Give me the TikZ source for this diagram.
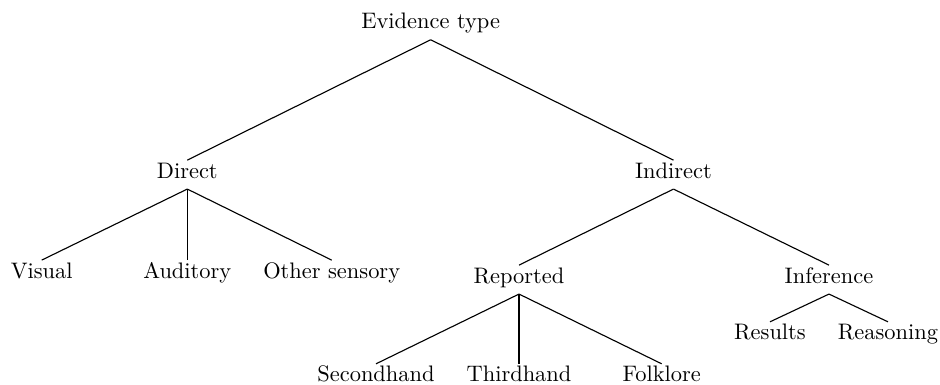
\documentclass[tikz,border=0pt]{standalone}
\begin{document}
\begin{tikzpicture}[x=0.4458pt,y=-0.4458pt,
  lbl/.style={anchor=base,font=\fontsize{10}{12}\selectfont,text height=5.9pt,text depth=2.6pt,inner xsep=0pt,inner ysep=2pt},
  edge/.style={line width=0.5pt}]
\useasboundingbox (0,0) rectangle (940,385);
\node[lbl] (root) at (430.7,29) {Evidence type};
\node[lbl] (direct) at (187.3,178.3) {Direct};
\node[lbl] (indirect) at (673.5,178.3) {Indirect};
\node[lbl] (visual) at (41.7,278.3) {Visual};
\node[lbl] (auditory) at (187.3,278.3) {Auditory};
\node[lbl] (other) at (331.7,278.3) {Other sensory};
\node[lbl] (reported) at (519,283.3) {Reported};
\node[lbl] (inference) at (829,283.3) {Inference};
\node[lbl] (second) at (376,382) {Secondhand};
\node[lbl] (third) at (519,382) {Thirdhand};
\node[lbl] (folk) at (661.7,382) {Folklore};
\node[lbl] (results) at (770,340) {Results};
\node[lbl] (reasoning) at (888,340) {Reasoning};
\draw[edge] (root.south) -- (direct.north);
\draw[edge] (root.south) -- (indirect.north);
\draw[edge] (direct.south) -- (visual.north);
\draw[edge] (direct.south) -- (auditory.north);
\draw[edge] (direct.south) -- (other.north);
\draw[edge] (indirect.south) -- (reported.north);
\draw[edge] (indirect.south) -- (inference.north);
\draw[edge] (reported.south) -- (second.north);
\draw[edge] (reported.south) -- (third.north);
\draw[edge] (reported.south) -- (folk.north);
\draw[edge] (inference.south) -- (results.north);
\draw[edge] (inference.south) -- (reasoning.north);
\end{tikzpicture}
\end{document}
